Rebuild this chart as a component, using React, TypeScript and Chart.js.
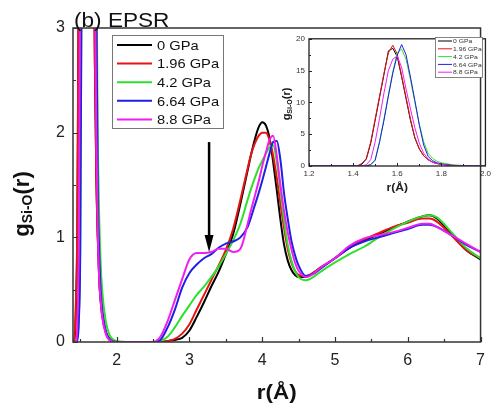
import React, { useEffect, useRef } from "react";
import { Chart, registerables } from "chart.js";

Chart.register(...registerables);

const FONT = 'Arial, "Liberation Sans", Helvetica, sans-serif';

// r grid (Å)
const r = [
  1.2, 1.4, 1.42, 1.44, 1.46, 1.48, 1.5, 1.52, 1.54, 1.56,
  1.58, 1.6, 1.62, 1.64, 1.66, 1.68, 1.7, 1.72, 1.74, 1.76,
  1.78, 1.8, 1.85, 1.9, 2.0, 2.2, 2.4, 2.5, 2.6, 2.7,
  2.8, 2.9, 3.0, 3.1, 3.2, 3.3, 3.4, 3.5, 3.6, 3.7,
  3.8, 3.85, 3.9, 3.95, 4.0, 4.05, 4.1, 4.15, 4.2, 4.25,
  4.3, 4.35, 4.4, 4.45, 4.5, 4.6, 4.7, 4.8, 5.0, 5.2,
  5.4, 5.6, 5.8, 6.0, 6.2, 6.3, 6.4, 6.6, 6.8, 7.0,
];

const g0GPa = [
  0, 0, 0, 0.3, 1.1, 3.6, 7.2, 10.8, 14.4, 18.1,
  18.5, 17.2, 14.0, 10.6, 7.2, 4.4, 2.7, 1.6, 1.0, 0.6,
  0.4, 0.28, 0.1, 0.03, 0, 0, 0, 0, 0, 0.01,
  0.02, 0.04, 0.11, 0.24, 0.38, 0.53, 0.67, 0.84, 1.03, 1.32,
  1.64, 1.8, 1.94, 2.05, 2.1, 2.07, 1.95, 1.72, 1.45, 1.17,
  0.93, 0.78, 0.69, 0.64, 0.62, 0.62, 0.66, 0.71, 0.8, 0.9,
  0.97, 1.03, 1.09, 1.15, 1.2, 1.21, 1.18, 1.03, 0.88, 0.79,
];

const g196GPa = [
  0, 0, 0.05, 0.4, 1.2, 3.8, 7.4, 11.0, 14.6, 17.8,
  19.0, 17.6, 14.2, 10.8, 7.4, 4.5, 2.7, 1.6, 1.0, 0.6,
  0.38, 0.25, 0.09, 0.02, 0, 0, 0, 0, 0, 0.01,
  0.03, 0.08, 0.17, 0.31, 0.45, 0.59, 0.73, 0.88, 1.08, 1.36,
  1.66, 1.8, 1.9, 1.97, 2.0, 2.0, 1.93, 1.78, 1.57, 1.32,
  1.09, 0.89, 0.76, 0.68, 0.64, 0.63, 0.66, 0.71, 0.8, 0.91,
  0.98, 1.04, 1.1, 1.14, 1.18, 1.18, 1.15, 1.02, 0.88, 0.8,
];

const g42GPa = [
  0, 0, 0, 0, 0.05, 0.25, 1.0, 3.8, 7.4, 11.2,
  14.8, 17.8, 18.4, 16.8, 13.6, 10.0, 6.6, 3.8, 2.0, 1.2,
  0.75, 0.5, 0.2, 0.07, 0.01, 0, 0, 0, 0.01, 0.05,
  0.14, 0.25, 0.35, 0.45, 0.53, 0.62, 0.72, 0.84, 0.97, 1.13,
  1.36, 1.47, 1.57, 1.66, 1.73, 1.8, 1.86, 1.88, 1.72, 1.45,
  1.16, 0.93, 0.78, 0.68, 0.62, 0.59, 0.62, 0.67, 0.76, 0.84,
  0.91, 1.0, 1.08, 1.15, 1.2, 1.21, 1.19, 1.05, 0.9, 0.8,
];

const g664GPa = [
  0, 0, 0, 0, 0.02, 0.2, 0.9, 3.8, 7.2, 11.0,
  14.6, 17.4, 19.1, 17.5, 14.0, 10.3, 6.5, 3.3, 1.5, 0.85,
  0.5, 0.32, 0.1, 0.03, 0, 0, 0, 0, 0.02, 0.14,
  0.31, 0.52, 0.66, 0.74, 0.8, 0.84, 0.9, 0.94, 0.96, 1.0,
  1.1, 1.2, 1.31, 1.42, 1.54, 1.67, 1.8, 1.91, 1.92, 1.74,
  1.42, 1.18, 0.97, 0.83, 0.73, 0.63, 0.65, 0.7, 0.8, 0.9,
  0.96, 1.0, 1.04, 1.08, 1.12, 1.12, 1.1, 1.02, 0.93, 0.86,
];

const g88GPa = [
  0, 0, 0, 0, 0.2, 1.0, 3.8, 7.5, 11.5, 15.0,
  16.8, 17.3, 15.5, 12.1, 9.0, 6.0, 3.6, 2.0, 1.1, 0.6,
  0.4, 0.25, 0.08, 0.02, 0, 0, 0, 0, 0.05, 0.2,
  0.4, 0.6, 0.79, 0.85, 0.85, 0.86, 0.89, 0.89, 0.86, 0.89,
  1.13, 1.27, 1.4, 1.53, 1.68, 1.81, 1.93, 1.97, 1.78, 1.5,
  1.25, 1.05, 0.89, 0.76, 0.68, 0.62, 0.65, 0.71, 0.8, 0.92,
  0.99, 1.02, 1.05, 1.09, 1.13, 1.13, 1.1, 1.02, 0.94, 0.86,
];

const seriesLabels = ["0 GPa", "1.96 GPa", "4.2 GPa", "6.64 GPa", "8.8 GPa"];
const seriesColors = ["#000000", "#e81414", "#2ee02e", "#1f1fe6", "#f01ef0"];
const seriesValues = [g0GPa, g196GPa, g42GPa, g664GPa, g88GPa];

const mainXTicks = [2, 3, 4, 5, 6, 7];
const mainXMinor = [1.5, 2.5, 3.5, 4.5, 5.5, 6.5];
const mainYTicks = [0, 1, 2, 3];
const mainYMinor = [0.5, 1.5, 2.5];
const insetXTicks = [1.2, 1.4, 1.6, 1.8, 2.0];
const insetXMinor = [1.3, 1.5, 1.7, 1.9];
const insetYTicks = [0, 5, 10, 15, 20];
const insetYMinor = [2.5, 7.5, 12.5, 17.5];

const panelTitle = "(b) EPSR";
const arrowR = 3.27;
const arrowFromG = 1.91;
const arrowToG = 0.86;

const STRETCH = 1.13;

function stretchedText(ctx: CanvasRenderingContext2D, text: string, x: number, y: number, font: string, align: CanvasTextAlign, sx = STRETCH) {
  ctx.save();
  ctx.font = font;
  ctx.translate(x, y);
  ctx.scale(sx, 1);
  ctx.textAlign = align;
  ctx.textBaseline = "alphabetic";
  ctx.fillText(text, 0, 0);
  ctx.restore();
}

function makeDatasets(width: number, smooth: boolean) {
  return seriesValues.map((vals, i) => ({
    label: seriesLabels[i],
    data: r.map((x, j) => ({ x, y: vals[j] })),
    borderColor: seriesColors[i],
    backgroundColor: seriesColors[i],
    borderWidth: width,
    pointRadius: 0,
    fill: false,
    tension: 0,
    cubicInterpolationMode: smooth ? "monotone" : "default",
    order: seriesValues.length - 1 - i,
  }));
}

function drawInwardTicks(chart: any, xMajor: number[], xMinor: number[], yMajor: number[], yMinor: number[], majLen: number, minLen: number) {
  const { ctx, chartArea: a, scales } = chart;
  const xs = scales.x;
  const ys = scales.y;
  ctx.beginPath();
  xMajor.forEach((v) => {
    const p = Math.round(xs.getPixelForValue(v)) + 0.5;
    ctx.moveTo(p, a.bottom);
    ctx.lineTo(p, a.bottom - majLen);
  });
  xMinor.forEach((v) => {
    const p = Math.round(xs.getPixelForValue(v)) + 0.5;
    ctx.moveTo(p, a.bottom);
    ctx.lineTo(p, a.bottom - minLen);
  });
  yMajor.forEach((v) => {
    const p = Math.round(ys.getPixelForValue(v)) + 0.5;
    ctx.moveTo(a.left, p);
    ctx.lineTo(a.left + majLen, p);
  });
  yMinor.forEach((v) => {
    const p = Math.round(ys.getPixelForValue(v)) + 0.5;
    ctx.moveTo(a.left, p);
    ctx.lineTo(a.left + minLen, p);
  });
  ctx.stroke();
}

function drawGTitle(ctx: CanvasRenderingContext2D, cx: number, cy: number, big: number, small: number, sub: number) {
  ctx.save();
  ctx.translate(cx, cy);
  ctx.rotate(-Math.PI / 2);
  ctx.fillStyle = "#111";
  ctx.textBaseline = "alphabetic";
  ctx.textAlign = "left";
  const fb = `bold ${big}px ${FONT}`;
  const fs = `bold ${small}px ${FONT}`;
  ctx.font = fb;
  const wg = ctx.measureText("g").width;
  const wr = ctx.measureText("(r)").width;
  ctx.font = fs;
  const ws = ctx.measureText("Si-O").width;
  const total = wg + ws + wr;
  let x = -total / 2;
  ctx.font = fb;
  ctx.fillText("g", x, 0);
  x += wg;
  ctx.font = fs;
  ctx.fillText("Si-O", x, sub);
  x += ws;
  ctx.font = fb;
  ctx.fillText("(r)", x, 0);
  ctx.restore();
}

const mainDecor = {
  id: "mainDecor",
  afterDraw(chart: any) {
    const { ctx, chartArea: a, scales } = chart;
    ctx.save();
    ctx.strokeStyle = "#333";
    ctx.lineWidth = 1.5;
    ctx.strokeRect(a.left, a.top, a.right - a.left, a.bottom - a.top);
    ctx.lineWidth = 1.2;
    drawInwardTicks(chart, mainXTicks, mainXMinor, mainYTicks, mainYMinor, 5, 3);

    // arrow
    const ax = scales.x.getPixelForValue(arrowR);
    const ay0 = scales.y.getPixelForValue(arrowFromG);
    const ay1 = scales.y.getPixelForValue(arrowToG);
    ctx.strokeStyle = "#000";
    ctx.fillStyle = "#000";
    ctx.lineWidth = 2.5;
    ctx.beginPath();
    ctx.moveTo(ax, ay0);
    ctx.lineTo(ax, ay1 - 14);
    ctx.stroke();
    ctx.beginPath();
    ctx.moveTo(ax - 4.5, ay1 - 17);
    ctx.lineTo(ax + 4.5, ay1 - 17);
    ctx.lineTo(ax, ay1);
    ctx.closePath();
    ctx.fill();

    // panel title
    ctx.fillStyle = "#111";
    stretchedText(ctx, panelTitle, 74, 26.5, `20px ${FONT}`, "left");

    // legend
    const lg = { left: 112, top: 35, right: 223, bottom: 128 };
    ctx.fillStyle = "#fff";
    ctx.fillRect(lg.left, lg.top, lg.right - lg.left, lg.bottom - lg.top);
    ctx.strokeStyle = "#777";
    ctx.lineWidth = 1;
    ctx.strokeRect(lg.left + 0.5, lg.top + 0.5, lg.right - lg.left, lg.bottom - lg.top);
    chart.data.datasets.forEach((ds: any, i: number) => {
      const yy = 45 + i * 18.6;
      ctx.strokeStyle = ds.borderColor;
      ctx.lineWidth = 2;
      ctx.beginPath();
      ctx.moveTo(117, yy);
      ctx.lineTo(152, yy);
      ctx.stroke();
      ctx.fillStyle = "#111";
      stretchedText(ctx, ds.label, 157, yy + 4.7, `13px ${FONT}`, "left");
    });

    // axis titles
    ctx.fillStyle = "#111";
    stretchedText(ctx, "r(Å)", (a.left + a.right) / 2, 399, `bold 20px ${FONT}`, "center", 1.12);
    drawGTitle(ctx, 29, 204, 22, 14, 3);
    ctx.restore();
  },
};

const insetDecor = {
  id: "insetDecor",
  afterDraw(chart: any) {
    const { ctx, chartArea: a } = chart;
    ctx.save();
    ctx.strokeStyle = "#222";
    ctx.lineWidth = 1.3;
    ctx.strokeRect(a.left, a.top, a.right - a.left, a.bottom - a.top);
    ctx.lineWidth = 1;
    drawInwardTicks(chart, insetXTicks, insetXMinor, insetYTicks, insetYMinor, 3, 2);

    // legend
    const lg = { left: 165, top: 7, right: 212, bottom: 47 };
    ctx.fillStyle = "#fff";
    ctx.fillRect(lg.left, lg.top, lg.right - lg.left, lg.bottom - lg.top);
    ctx.strokeStyle = "#666";
    ctx.lineWidth = 0.8;
    ctx.strokeRect(lg.left + 0.5, lg.top + 0.5, lg.right - lg.left, lg.bottom - lg.top);
    chart.data.datasets.forEach((ds: any, i: number) => {
      const yy = 11 + i * 7.8;
      ctx.strokeStyle = ds.borderColor;
      ctx.lineWidth = 1;
      ctx.beginPath();
      ctx.moveTo(168, yy);
      ctx.lineTo(182, yy);
      ctx.stroke();
      ctx.fillStyle = "#333";
      stretchedText(ctx, ds.label, 183, yy + 2.2, `6px ${FONT}`, "left");
    });

    ctx.fillStyle = "#222";
    stretchedText(ctx, "r(Å)", (a.left + a.right) / 2, 161, `bold 11px ${FONT}`, "center", 1.1);
    drawGTitle(ctx, 20, 74, 11, 7, 2);
    ctx.restore();
  },
};

export default function App() {
  const mainRef = useRef<HTMLCanvasElement>(null);
  const insetRef = useRef<HTMLCanvasElement>(null);

  useEffect(() => {
    const main = new Chart(mainRef.current as HTMLCanvasElement, {
      type: "line",
      data: { datasets: makeDatasets(2, true) as any },
      options: {
        animation: false,
        responsive: false,
        events: [],
        layout: { padding: { left: 0, right: 8, top: 28, bottom: 0 } },
        plugins: { legend: { display: false }, tooltip: { enabled: false }, title: { display: false } },
        scales: {
          x: {
            type: "linear",
            min: 1.4,
            max: 7,
            grid: { display: false, drawTicks: false },
            border: { display: false },
            ticks: { color: "#222", font: { family: FONT, size: 16 }, padding: 9, maxRotation: 0, autoSkip: false },
            afterBuildTicks: (s: any) => {
              s.ticks = mainXTicks.map((v) => ({ value: v }));
            },
            afterFit: (s: any) => {
              s.height = 71;
            },
          },
          y: {
            type: "linear",
            min: 0,
            max: 3,
            grid: { display: false, drawTicks: false },
            border: { display: false },
            ticks: { color: "#222", font: { family: FONT, size: 16 }, padding: 8, autoSkip: false },
            afterBuildTicks: (s: any) => {
              s.ticks = mainYTicks.map((v) => ({ value: v }));
            },
            afterFit: (s: any) => {
              s.width = 73;
            },
          },
        },
      } as any,
      plugins: [mainDecor],
    });

    const inset = new Chart(insetRef.current as HTMLCanvasElement, {
      type: "line",
      data: { datasets: makeDatasets(1, false) as any },
      options: {
        animation: false,
        responsive: false,
        events: [],
        layout: { padding: { left: 0, right: 8, top: 5, bottom: 0 } },
        plugins: { legend: { display: false }, tooltip: { enabled: false }, title: { display: false } },
        scales: {
          x: {
            type: "linear",
            min: 1.2,
            max: 2.0,
            grid: { display: false, drawTicks: false },
            border: { display: false },
            ticks: {
              color: "#333",
              font: { family: FONT, size: 8 },
              padding: 3,
              maxRotation: 0,
              autoSkip: false,
              callback: (v: any) => Number(v).toFixed(1),
            },
            afterBuildTicks: (s: any) => {
              s.ticks = insetXTicks.map((v) => ({ value: v }));
            },
            afterFit: (s: any) => {
              s.height = 34;
            },
          },
          y: {
            type: "linear",
            min: 0,
            max: 20,
            grid: { display: false, drawTicks: false },
            border: { display: false },
            ticks: { color: "#333", font: { family: FONT, size: 8 }, padding: 4, autoSkip: false },
            afterBuildTicks: (s: any) => {
              s.ticks = insetYTicks.map((v) => ({ value: v }));
            },
            afterFit: (s: any) => {
              s.width = 39;
            },
          },
        },
      } as any,
      plugins: [insetDecor],
    });

    return () => {
      main.destroy();
      inset.destroy();
    };
  }, []);

  return (
    <div style={{ position: "absolute", left: 0, top: 0, width: 494, height: 413, background: "#fff", overflow: "hidden" }}>
      <canvas ref={mainRef} width={494} height={413} style={{ position: "absolute", left: 0, top: 0, width: 494, height: 413 }} />
      <canvas ref={insetRef} width={224} height={170} style={{ position: "absolute", left: 270, top: 30, width: 224, height: 170 }} />
    </div>
  );
}
